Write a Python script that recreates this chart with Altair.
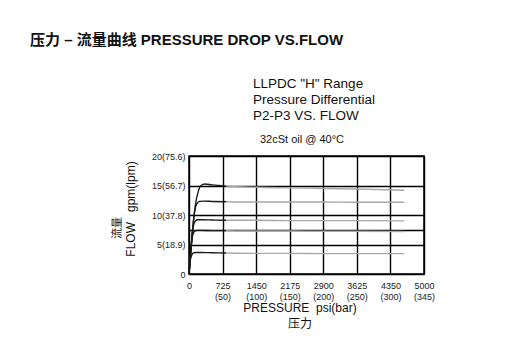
import altair as alt
import pandas as pd

# ---- data ----
curve_names = ["c1", "c2", "c3", "c4", "c5"]
curve_psi = [
    [0, 40, 90, 140, 200, 260, 340, 500, 800, 1450, 2175, 2900, 3625, 4650],
    [0, 40, 90, 130, 170, 230, 320, 500, 800, 1450, 2175, 2900, 3625, 4650],
    [0, 40, 80, 110, 140, 190, 280, 500, 800, 1450, 2175, 2900, 3625, 4650],
    [0, 35, 70, 100, 130, 180, 260, 500, 800, 1450, 2175, 2900, 3625, 4650],
    [0, 25, 50, 75, 100, 150, 240, 500, 800, 1450, 2175, 2900, 3625, 4650],
]
curve_gpm = [
    [0, 4.0, 8.5, 11.8, 14.0, 15.0, 15.25, 15.1, 14.9, 14.7, 14.6, 14.5, 14.4, 14.2],
    [0, 4.0, 8.5, 11.0, 11.9, 12.3, 12.35, 12.3, 12.25, 12.2, 12.2, 12.2, 12.15, 12.15],
    [0, 4.0, 7.5, 8.6, 9.0, 9.2, 9.2, 9.15, 9.1, 9.1, 9.05, 9.05, 9.05, 9.0],
    [0, 3.5, 6.2, 7.0, 7.3, 7.4, 7.4, 7.35, 7.35, 7.3, 7.3, 7.25, 7.25, 7.2],
    [0, 2.2, 3.0, 3.4, 3.6, 3.65, 3.65, 3.6, 3.55, 3.5, 3.5, 3.45, 3.45, 3.45],
]
x_ticks = [0, 725, 1450, 2175, 2900, 3625, 4350, 5075]
x_top = ["0", "725", "1450", "2175", "2900", "3625", "4350", "5000"]
x_bottom = ["", "(50)", "(100)", "(150)", "(200)", "(250)", "(300)", "(345)"]
y_grid = [0, 5, 7.5, 10, 15, 20]
y_labels = ["0", "5(18.9)", "", "10(37.8)", "15(56.7)", "20(75.6)"]

rows = []
for name, xs, ys in zip(curve_names, curve_psi, curve_gpm):
    for i, (xv, yv) in enumerate(zip(xs, ys)):
        if xv <= 800:
            rows.append({"curve": name, "seg": "dark", "psi": xv, "gpm": yv, "o": i})
        if xv >= 800:
            rows.append({"curve": name, "seg": "light", "psi": xv, "gpm": yv, "o": i})
df = pd.DataFrame(rows)

FONT = "Liberation Sans"
MIX = "Liberation Sans, Noto Sans CJK SC"
NB = "\u00a0"

# label expressions
xe = " : ".join(
    f"datum.value == {v} ? ['{t}', '{b}']" for v, t, b in zip(x_ticks, x_top, x_bottom)
) + " : ''"
ye = " : ".join(f"datum.value == {v} ? '{l}'" for v, l in zip(y_grid, y_labels)) + " : ''"

x_enc = alt.X(
    "psi:Q",
    scale=alt.Scale(domain=[0, 5075], nice=False, zero=False),
    axis=alt.Axis(
        values=x_ticks, labelExpr=xe, title=None, grid=True, gridColor="#000",
        gridWidth=1.4, gridOpacity=1, ticks=False, domain=False, labelFont=FONT,
        labelFontSize=9, labelColor="#222", labelPadding=7, labelLineHeight=11,
        labelFlush=False, labelOverlap=False,
    ),
)
y_enc = alt.Y(
    "gpm:Q",
    scale=alt.Scale(domain=[0, 20], nice=False),
    axis=alt.Axis(
        values=y_grid, labelExpr=ye, title=None, grid=True, gridColor="#000",
        gridWidth=1.4, gridOpacity=1, ticks=False, domain=False, labelFont=FONT,
        labelFontSize=9, labelColor="#222", labelPadding=4, labelOverlap=False,
        labelFlush=False,
    ),
)

lines = alt.Chart(df).mark_line(interpolate="monotone", strokeWidth=1.4).encode(
    x=x_enc,
    y=y_enc,
    color=alt.Color("seg:N", scale=alt.Scale(domain=["dark", "light"], range=["#1a1a1a", "#a8a8a8"]), legend=None),
    detail="curve:N",
    order="o:Q",
)

def txt(s, x, y, size, weight="normal", align="left", angle=0, font=MIX):
    return alt.Chart(pd.DataFrame({"t": [s]})).mark_text(
        align=align, baseline="middle", fontSize=size, fontWeight=weight,
        font=font, angle=angle, color="#111",
    ).encode(x=alt.value(x), y=alt.value(y), text="t:N")

layers = [
    lines,
    txt("压力 – 流量曲线 PRESSURE DROP VS.FLOW", -159, -116, 15, "bold"),
    txt('LLPDC "H" Range', 64, -72, 13.5),
    txt("Pressure Differential", 64, -56, 13.5),
    txt("P2-P3 VS. FLOW", 64, -40, 13.5),
    txt("32cSt oil @ 40°C", 71, -16, 11),
    txt(f"PRESSURE{NB}{NB}psi(bar)", 111, 152, 12, align="center"),
    txt("压力", 111, 168, 12, align="center"),
    txt(f"FLOW{NB}{NB}{NB}gpm(lpm)", -58, 53, 12, align="center", angle=270),
    txt("流量", -71, 72, 11, align="center", angle=270),
]

chart = alt.layer(*layers).properties(
    width=235, height=118,
    autosize=alt.AutoSizeParams(type="none"),
    padding={"left": 189, "top": 156, "right": 84, "bottom": 83},
    background="white",
).configure_view(stroke="#000", strokeWidth=1.5)

chart.save("out.html", embed_options={"renderer": "svg", "actions": False})
